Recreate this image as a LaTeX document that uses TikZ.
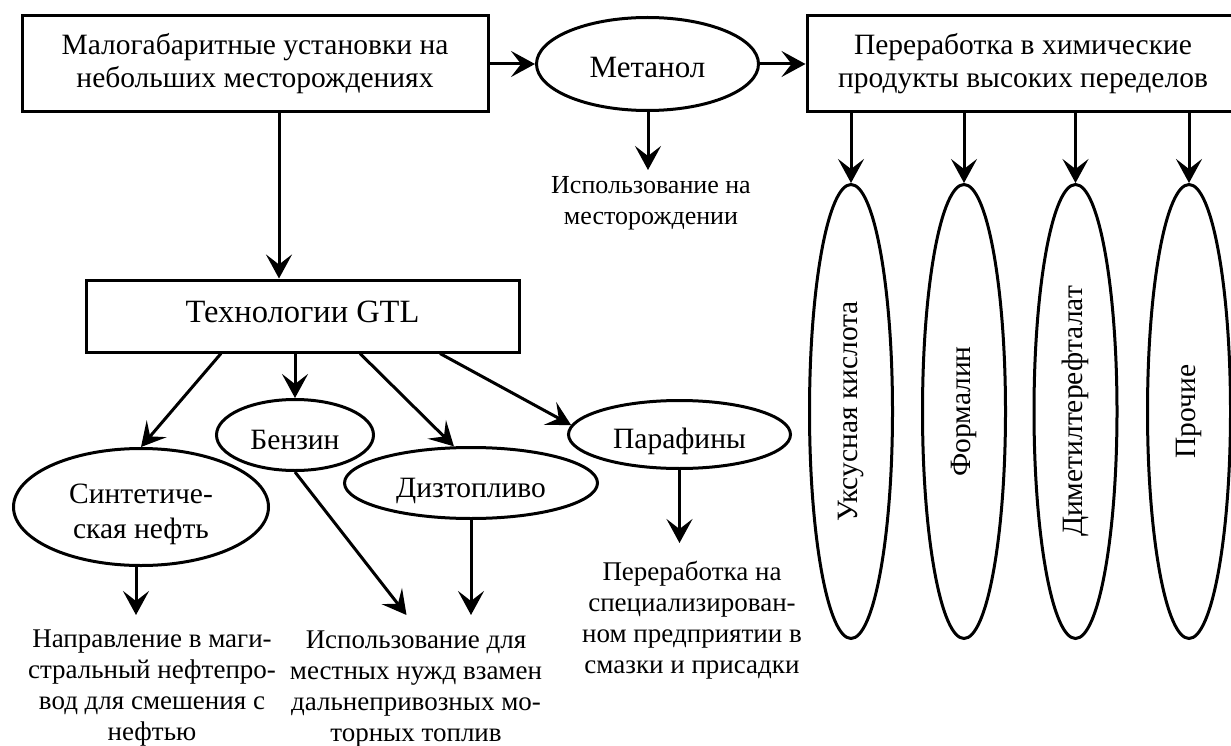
\documentclass[tikz,border=0pt]{standalone}
\usepackage{fontspec}
\setmainfont{Liberation Serif}
\usetikzlibrary{arrows.meta,positioning,shapes.geometric}

\begin{document}
\begin{tikzpicture}[x=1pt,y=-1pt,line width=3pt,
 >={Stealth[length=24pt,width=26pt,inset=10pt]},
 big/.style={font=\fontsize{29.5}{33}\selectfont},
 box/.style={draw,big,align=center,inner sep=0pt},
 oval/.style={draw,ellipse,big,align=center,inner sep=0pt,text height=28pt,text depth=0pt},
 tall/.style={draw,ellipse,big,inner sep=0pt,rotate=90,minimum width=454pt,minimum height=83pt},
 note/.style={align=center,inner sep=0pt,anchor=north,font=\fontsize{27}{31}\selectfont}]
\useasboundingbox (0,0) rectangle (1231,746);
\node[box,minimum width=466pt,minimum height=96pt] (mal) at (255,64) {Малогабаритные установки на\\небольших месторождениях};
\node[oval,minimum width=222pt,minimum height=93pt,font=\fontsize{31}{33}\selectfont] (met) at (647.5,64) {Метанол};
\node[box,minimum width=432pt,minimum height=96pt] (chem) at (1023,64) {Переработка в химические\\продукты высоких переделов};
\node[box,minimum width=433pt,minimum height=72pt,font=\fontsize{32.5}{36}\selectfont,text depth=9pt] (gtl) at (302.5,316) {Технологии GTL};
\node[oval,minimum width=255pt,minimum height=117pt,font=\fontsize{29.5}{35}\selectfont,text height=62pt,text depth=0pt] (syn) at (141,507) {Синтетиче-\\ская нефть};
\node[oval,minimum width=157pt,minimum height=71pt] (ben) at (295,435) {Бензин};
\node[oval,minimum width=253pt,minimum height=71pt] (diz) at (471,483) {Дизтопливо};
\node[oval,minimum width=222pt,minimum height=68pt] (par) at (679.5,434.5) {Парафины};
\node[tall] (e1) at (851,411.5) {Уксусная кислота};
\node[tall] (e2) at (964,411.5) {Формалин};
\node[tall] (e3) at (1075.5,411.5) {Диметилтерефталат};
\node[tall] (e4) at (1189,411.5) {Прочие};
\node[note,font=\fontsize{26}{31}\selectfont] (useM) at (651,175) {Использование на\\месторождении};
\node[note] (pipe) at (152,628) {Направление в маги-\\стральный нефтепро-\\вод для смешения с\\нефтью};
\node[note] (local) at (416,629) {Использование для\\местных нужд взамен\\дальнепривозных мо-\\торных топлив};
\node[note] (lube) at (692,560) {Переработка на\\специализирован-\\ном предприятии в\\смазки и присадки};
\coordinate (aMet) at (648,170);
\coordinate (aSyn) at (136,615);
\coordinate (aBen) at (406.5,615);
\coordinate (aDiz) at (471,615);
\coordinate (aPar) at (679.5,543);
\draw[->] (mal) -- (met);
\draw[->] (met) -- (chem);
\draw[->] (met.south -| aMet) -- (aMet);
\draw[->] ([xshift=24pt]mal.south) -- ([xshift=-23.5pt]gtl.north);
\foreach \e in {e1,e2,e3,e4}
  \draw[->] (chem.south -| \e) -- (\e);
\draw[->] ([xshift=-81.5pt]gtl.south) -- (syn.north);
\draw[->] (gtl.south -| ben.north) -- (ben.north);
\draw[->] ([xshift=57.5pt]gtl.south) -- (diz.115);
\draw[->] ([xshift=137.5pt]gtl.south) -- (par.175);
\draw[->] (syn.south -| aSyn) -- (aSyn);
\draw[->] (ben.south) -- (aBen);
\draw[->] (diz) -- (aDiz);
\draw[->] (par) -- (aPar);
\end{tikzpicture}
\end{document}
